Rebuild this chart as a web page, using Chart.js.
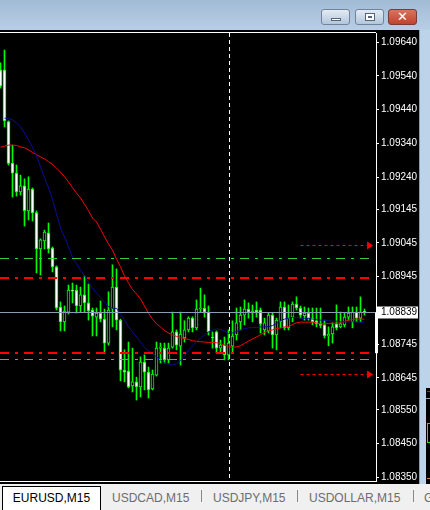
<!DOCTYPE html>
<html>
<head>
<meta charset="utf-8">
<script src="https://cdn.jsdelivr.net/npm/chart.js@4.4.1/dist/chart.umd.min.js"></script>
<style>
  html, body { margin: 0; padding: 0; width: 430px; height: 510px; overflow: hidden; background: #f0f0f0; }
  #title { position: absolute; left: 0; top: 0; width: 430px; height: 30px;
           background: linear-gradient(#a2bbd5, #b8cee5); }
  .btn { position: absolute; top: 9px; width: 29px; height: 16px; border: 1px solid #71839a;
         border-radius: 3px; background: linear-gradient(#e3ebf4, #b3c6dc); box-sizing: border-box; }
  .btn.close { background: linear-gradient(#d9735f, #c0432f); border-color: #7a3a35; }
  #chartbox { position: absolute; left: 0; top: 30px; width: 420px; height: 454px; background: #000; }
  #edge { position: absolute; left: 419px; top: 30px; width: 11px; height: 454px; background: #bcd3ea;
          border-left: 1px solid #8a9cb0; box-sizing: border-box; }
  #behind { position: absolute; left: 426px; top: 388px; width: 4px; height: 96px; background: #000; }
  #tabs { position: absolute; left: 0; top: 484px; width: 430px; height: 26px; background: #f0f0f0;
          font-family: "Liberation Sans", Arial, sans-serif; font-size: 12px; color: #6d6d6d; }
  #tabs .tab { position: absolute; top: 7px; white-space: nowrap; }
  #tabs .active { position: absolute; left: 2px; top: 2px; width: 99px; height: 26px; background: #fff;
                  border: 1px solid #000; border-bottom: none; box-sizing: border-box; color: #000;
                  text-align: center; line-height: 22px; }
  #tabs .sep { position: absolute; top: 6px; width: 1px; height: 12px; background: #8a8a8a; }
</style>
</head>
<body>
<div id="title">
  <div class="btn" style="left:321px;"><div style="position:absolute;left:9px;top:8px;width:10px;height:3px;background:#fff;border:1px solid #55667a;box-sizing:border-box;"></div></div>
  <div class="btn" style="left:355px;"><div style="position:absolute;left:9px;top:3px;width:10px;height:8px;border:1px solid #55667a;background:#fff;box-sizing:border-box;"><div style="margin:2px;height:2px;background:#55667a;"></div></div></div>
  <div class="btn close" style="left:388px;"><div style="position:absolute;left:0;top:-1px;width:27px;text-align:center;color:#fff;font:bold 13px 'DejaVu Sans',sans-serif;">✕</div></div>
</div>
<div id="chartbox"><canvas id="c" width="420" height="454"></canvas></div>
<div id="edge"></div>
<div id="behind">
  <div style="position:absolute;left:1px;top:3px;width:3px;height:1px;background:#ff0000;"></div>
  <div style="position:absolute;left:0;top:10px;width:4px;height:1px;background:#8c9cb4;"></div>
  <div style="position:absolute;left:1px;top:35px;width:3px;height:20px;border:1px solid #00ff00;border-right:none;box-sizing:border-box;"></div>
  <div style="position:absolute;left:1px;top:90px;width:3px;height:1px;background:#d08020;"></div>
</div>
<div id="tabs">
  <div class="active">EURUSD,M15</div>
  <div class="tab" style="left:112px;">USDCAD,M15</div>
  <div class="sep" style="left:201px;"></div>
  <div class="tab" style="left:213px;">USDJPY,M15</div>
  <div class="sep" style="left:297px;"></div>
  <div class="tab" style="left:309px;">USDOLLAR,M15</div>
  <div class="sep" style="left:413px;"></div>
  <div class="tab" style="left:424px;">G</div>
</div>
<script>
// EURUSD M15 bars, oldest first
const openP  = [1.09558,1.09558,1.09405,1.09282,1.09252,1.09196,1.09214,1.09140,1.09205,1.09135,
                1.09027,1.09051,1.09075,1.09030,1.08974,1.08855,1.08811,1.08840,1.08905,1.08905,
                1.08858,1.08891,1.08867,1.08846,1.08825,1.08837,1.08819,1.08748,1.08849,1.08914,
                1.08816,1.08668,1.08665,1.08621,1.08633,1.08618,1.08692,1.08662,1.08612,1.08653,
                1.08733,1.08733,1.08698,1.08736,1.08781,1.08739,1.08763,1.08787,1.08822,1.08793,
                1.08849,1.08852,1.08840,1.08766,1.08781,1.08733,1.08742,1.08713,1.08739,1.08772,
                1.08811,1.08831,1.08849,1.08837,1.08846,1.08846,1.08787,1.08784,1.08831,1.08772,
                1.08811,1.08855,1.08793,1.08825,1.08864,1.08852,1.08829,1.08837,1.08822,1.08814,
                1.08806,1.08802,1.08769,1.08775,1.08805,1.08796,1.08802,1.08825,1.08811,1.08840,
                1.08822,1.08842];
const highP  = [1.09579,1.09617,1.09407,1.09335,1.09276,1.09246,1.09235,1.09241,1.09208,1.09140,
                1.09057,1.09083,1.09104,1.09033,1.08977,1.08870,1.08858,1.08920,1.08926,1.08920,
                1.08914,1.08947,1.08923,1.08852,1.08852,1.08873,1.08849,1.08900,1.08980,1.08968,
                1.08819,1.08728,1.08751,1.08733,1.08647,1.08707,1.08713,1.08677,1.08668,1.08751,
                1.08748,1.08748,1.08748,1.08840,1.08787,1.08840,1.08814,1.08826,1.08826,1.08876,
                1.08911,1.08891,1.08858,1.08781,1.08784,1.08757,1.08766,1.08787,1.08814,1.08852,
                1.08855,1.08876,1.08867,1.08861,1.08870,1.08852,1.08822,1.08837,1.08837,1.08822,
                1.08870,1.08870,1.08861,1.08870,1.08885,1.08858,1.08855,1.08852,1.08852,1.08852,
                1.08852,1.08816,1.08796,1.08808,1.08861,1.08840,1.08837,1.08855,1.08855,1.08855,
                1.08885,1.08849];
const lowP   = [1.09504,1.09389,1.09276,1.09181,1.09184,1.09187,1.09095,1.09113,1.09110,1.08956,
                1.08950,1.09027,1.09015,1.08959,1.08846,1.08784,1.08784,1.08834,1.08867,1.08837,
                1.08840,1.08840,1.08816,1.08769,1.08769,1.08811,1.08716,1.08742,1.08796,1.08787,
                1.08636,1.08633,1.08615,1.08603,1.08579,1.08588,1.08609,1.08585,1.08609,1.08650,
                1.08689,1.08689,1.08689,1.08733,1.08728,1.08683,1.08751,1.08781,1.08781,1.08787,
                1.08840,1.08825,1.08772,1.08733,1.08719,1.08722,1.08698,1.08698,1.08719,1.08757,
                1.08787,1.08802,1.08822,1.08811,1.08825,1.08778,1.08772,1.08778,1.08733,1.08728,
                1.08793,1.08787,1.08787,1.08811,1.08846,1.08822,1.08816,1.08816,1.08802,1.08796,
                1.08793,1.08763,1.08740,1.08748,1.08787,1.08793,1.08796,1.08816,1.08793,1.08811,
                1.08811,1.08831];
const closeP = [1.09510,1.09407,1.09281,1.09252,1.09196,1.09214,1.09141,1.09205,1.09134,1.09027,
                1.09054,1.09077,1.09027,1.08974,1.08852,1.08811,1.08843,1.08905,1.08902,1.08858,
                1.08891,1.08867,1.08843,1.08828,1.08837,1.08819,1.08748,1.08846,1.08914,1.08816,
                1.08668,1.08662,1.08618,1.08633,1.08618,1.08692,1.08662,1.08609,1.08656,1.08733,
                1.08736,1.08698,1.08733,1.08781,1.08742,1.08775,1.08787,1.08822,1.08793,1.08849,
                1.08852,1.08840,1.08781,1.08763,1.08733,1.08742,1.08713,1.08748,1.08769,1.08808,
                1.08831,1.08849,1.08840,1.08843,1.08840,1.08805,1.08808,1.08831,1.08772,1.08816,
                1.08855,1.08793,1.08822,1.08864,1.08852,1.08831,1.08837,1.08822,1.08811,1.08805,
                1.08800,1.08770,1.08774,1.08796,1.08793,1.08805,1.08825,1.08837,1.08840,1.08822,
                1.08840,1.08839];

// fast moving average (blue), starts at bar 1
const maFast = [null,1.09415,1.09414,1.09410,1.09401,1.09389,1.09371,1.09350,1.09329,1.09303,
                1.09270,1.09238,1.09208,1.09175,1.09131,1.09089,1.09063,1.09033,1.09003,1.08983,
                1.08965,1.08947,1.08929,1.08911,1.08897,1.08883,1.08870,1.08856,1.08851,1.08851,
                1.08834,1.08816,1.08796,1.08781,1.08766,1.08751,1.08735,1.08725,1.08716,1.08707,
                1.08698,1.08690,1.08684,1.08683,1.08687,1.08696,1.08710,1.08727,1.08739,1.08753,
                1.08763,1.08772,1.08781,1.08787,1.08790,1.08788,1.08784,1.08776,1.08778,1.08782,
                1.08787,1.08791,1.08793,1.08794,1.08794,1.08796,1.08796,1.08797,1.08800,1.08806,
                1.08815,1.08819,1.08822,1.08824,1.08824,1.08822,1.08821,1.08821,1.08819,1.08818,
                1.08816,1.08815,1.08814,1.08813,1.08813,1.08811,1.08811,1.08811,1.08811,1.08811,
                1.08810,1.08810];
// slow moving average (red)
const maSlow = [1.09329,1.09332,1.09335,1.09335,1.09334,1.09330,1.09327,1.09321,1.09313,1.09307,
                1.09300,1.09294,1.09286,1.09278,1.09267,1.09255,1.09241,1.09226,1.09209,1.09193,
                1.09178,1.09160,1.09140,1.09119,1.09107,1.09086,1.09063,1.09042,1.09024,1.08997,
                1.08974,1.08947,1.08926,1.08907,1.08894,1.08879,1.08858,1.08837,1.08819,1.08805,
                1.08796,1.08785,1.08778,1.08772,1.08768,1.08764,1.08761,1.08759,1.08755,1.08753,
                1.08752,1.08751,1.08750,1.08750,1.08749,1.08747,1.08742,1.08738,1.08735,1.08737,
                1.08740,1.08747,1.08754,1.08760,1.08766,1.08773,1.08779,1.08784,1.08787,1.08791,
                1.08793,1.08796,1.08797,1.08803,1.08808,1.08810,1.08810,1.08810,1.08810,1.08808,
                1.08805,1.08805,1.08806,1.08807,1.08807,1.08808,1.08812,1.08816,1.08818,1.08819,
                1.08819,1.08819];

// price scale labels
const priceTicks = [1.09640,1.09540,1.09440,1.09340,1.09240,1.09145,1.09045,1.08945,1.08745,1.08645,1.08550,1.08450,1.08350];

// horizontal levels (dash-dot)
const greenLevels = [1.09000, 1.08700];
const redLevels   = [1.08940, 1.08718];
// arrowed dotted lines: [price, fromBar, toBar]
const arrowLines  = [[1.09038, 75, 92.4], [1.08656, 75, 92.4]];
// vertical separator bar index
const markerBar = 57;
// current bid and the lower end of the side marker
const bidPrice = closeP[closeP.length - 1];
const sideMarkLow = 1.08718;

const PRICE_MIN = 1.08339, PRICE_MAX = 1.096675;
const LIME = '#00ff00';

const idx = openP.map((_, i) => i);
const wickData = idx.map(i => ({ x: i, y: [lowP[i], highP[i]] }));
const bodyData = idx.map(i => ({ x: i, y: [openP[i], closeP[i]] }));
const bodyFill = idx.map(i => closeP[i] < openP[i] ? '#ffffff' : '#000000');
const fastData = idx.map(i => ({ x: i, y: maFast[i] }));
const slowData = idx.map(i => ({ x: i, y: maSlow[i] }));

const overlay = {
  id: 'overlay',
  beforeDatasetsDraw(chart) {
    const { ctx, chartArea: a, scales: { x } } = chart;
    ctx.save();
    // vertical dashed marker
    const vx = Math.round(x.getPixelForValue(markerBar)) + 0.5;
    ctx.strokeStyle = '#ffffff';
    ctx.lineWidth = 1;
    ctx.setLineDash([4, 3]);
    ctx.beginPath(); ctx.moveTo(vx, a.top); ctx.lineTo(vx, a.bottom); ctx.stroke();
    ctx.restore();
  },
  afterDatasetsDraw(chart) {
    const { ctx, chartArea: a, scales: { x, y } } = chart;
    ctx.save();
    const hline = (p, color, dash, width, x0, x1) => {
      const py = Math.round(y.getPixelForValue(p)) + (width % 2 ? 0.5 : 0);
      ctx.strokeStyle = color; ctx.lineWidth = width; ctx.setLineDash(dash);
      ctx.beginPath(); ctx.moveTo(x0, py); ctx.lineTo(x1, py); ctx.stroke();
      return py;
    };
    const lvlEnd = a.right - 7;
    greenLevels.forEach(p => hline(p, '#32cd32', [9, 6, 3, 6], 1, a.left, lvlEnd));
    redLevels.forEach(p => hline(p, '#ff0000', [9, 6, 3, 6], 2, a.left, lvlEnd));
    // bid line
    hline(bidPrice, '#8c9cb4', [], 1, a.left, a.right);
    // arrowed lines
    arrowLines.forEach(([p, b0, b1]) => {
      const x0 = x.getPixelForValue(b0), x1 = x.getPixelForValue(b1);
      const py = hline(p, '#ff0000', [3, 3], 1, x0, x1 - 3);
      ctx.setLineDash([]);
      ctx.fillStyle = '#ff0000';
      ctx.beginPath(); ctx.moveTo(x1 + 3, py); ctx.lineTo(x1 - 3, py - 4); ctx.lineTo(x1 - 3, py + 4); ctx.closePath(); ctx.fill();
    });
    ctx.setLineDash([]);
    // frame
    ctx.strokeStyle = '#ffffff'; ctx.lineWidth = 1;
    ctx.beginPath();
    ctx.moveTo(a.left, a.top - 0.5); ctx.lineTo(a.right, a.top - 0.5);
    ctx.moveTo(a.left, a.bottom + 0.5); ctx.lineTo(a.right, a.bottom + 0.5);
    ctx.stroke();
    // side marker below bid
    const yb = y.getPixelForValue(bidPrice), yl = y.getPixelForValue(sideMarkLow);
    ctx.fillStyle = '#ffffff';
    ctx.fillRect(a.right - 1, yb, 3, yl - yb);
    // bid label
    ctx.fillRect(a.right, Math.round(yb) - 5.5, 42, 12);
    ctx.fillStyle = '#000000';
    ctx.font = '10px "Liberation Sans", Arial, sans-serif';
    ctx.textBaseline = 'middle';
    ctx.fillText(bidPrice.toFixed(5), a.right + 5, Math.round(yb) + 0.5);
    ctx.restore();
  }
};

new Chart(document.getElementById('c'), {
  type: 'bar',
  data: {
    datasets: [
      { type: 'line', data: fastData, borderColor: '#0c0c9c', borderWidth: 1, pointRadius: 0, tension: 0, spanGaps: false, order: 0 },
      { type: 'line', data: slowData, borderColor: '#ff0000', borderWidth: 1, pointRadius: 0, tension: 0, order: 1 },
      { data: bodyData, backgroundColor: bodyFill, borderColor: LIME, borderWidth: 1, borderSkipped: false,
        barThickness: 3, grouped: false, order: 2 },
      { data: wickData, backgroundColor: LIME, borderWidth: 0, barThickness: 1, grouped: false, order: 3 }
    ]
  },
  options: {
    responsive: false,
    animation: false,
    devicePixelRatio: 1,
    layout: { padding: { top: 3, bottom: 3, left: 0, right: 0 } },
    plugins: { legend: { display: false }, tooltip: { enabled: false } },
    scales: {
      x: { type: 'linear', display: false, offset: false, min: -0.125, max: 93.875 },
      y: {
        type: 'linear', position: 'right', min: PRICE_MIN, max: PRICE_MAX, beginAtZero: false,
        afterBuildTicks: s => { s.ticks = priceTicks.map(v => ({ value: v })); },
        afterFit: s => { s.width = 44; s.paddingTop = 0; s.paddingBottom = 0; },
        grid: { display: true, drawOnChartArea: false, drawTicks: true, tickLength: 3, color: '#ffffff' },
        border: { display: true, color: '#ffffff', width: 1 },
        ticks: { color: '#ffffff', padding: 2, font: { family: '"Liberation Sans", Arial, sans-serif', size: 10 },
                 callback: v => v.toFixed(5) }
      }
    }
  },
  plugins: [overlay]
});
</script>
</body>
</html>
